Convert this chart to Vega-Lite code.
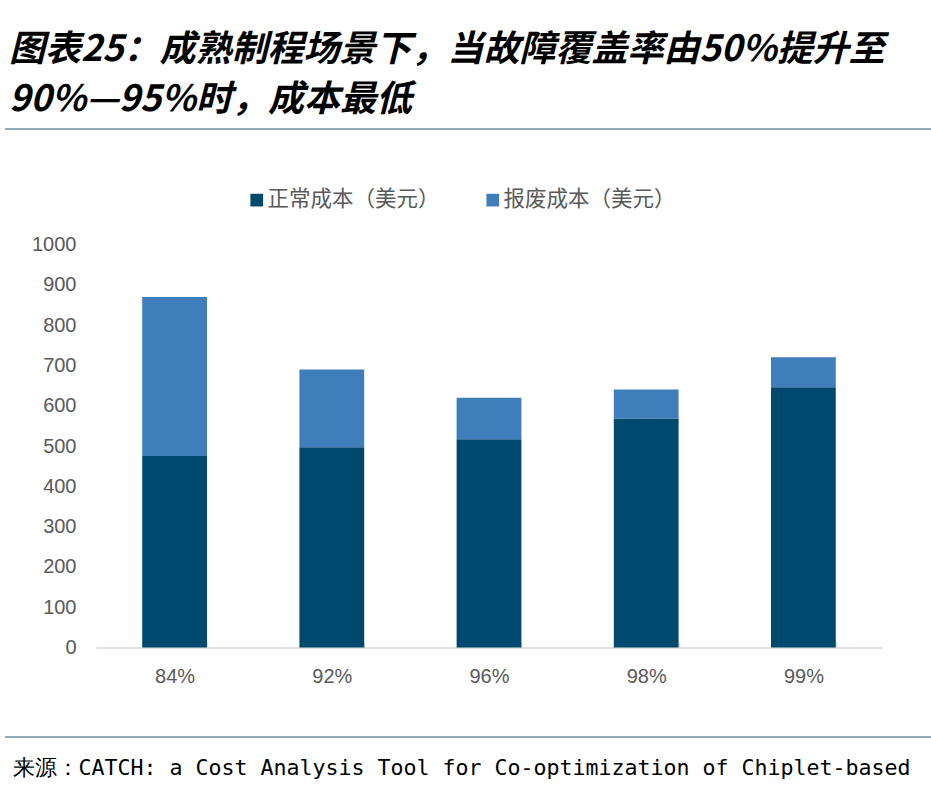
{
  "$schema": "https://vega.github.io/schema/vega-lite/v6.json",
  "autosize": {"type": "none"},
  "width": 926,
  "height": 608,
  "padding": {"left": 5, "top": 129, "right": 0, "bottom": 54},
  "background": "#ffffff",
  "title": {
    "text": ["图表25：成熟制程场景下，当故障覆盖率由50%提升至", "90%—95%时，成本最低"],
    "anchor": "start",
    "frame": "group",
    "dx": 4,
    "offset": 10,
    "font": "Noto Sans CJK SC",
    "fontSize": 36,
    "fontWeight": "bold",
    "fontStyle": "italic",
    "color": "#000000",
    "lineHeight": 50
  },
  "data": {
    "values": [
      {"rate": "84%", "type": "正常成本（美元）", "cost": 475},
      {"rate": "84%", "type": "报废成本（美元）", "cost": 395},
      {"rate": "92%", "type": "正常成本（美元）", "cost": 497},
      {"rate": "92%", "type": "报废成本（美元）", "cost": 193},
      {"rate": "96%", "type": "正常成本（美元）", "cost": 517},
      {"rate": "96%", "type": "报废成本（美元）", "cost": 103},
      {"rate": "98%", "type": "正常成本（美元）", "cost": 568},
      {"rate": "98%", "type": "报废成本（美元）", "cost": 72},
      {"rate": "99%", "type": "正常成本（美元）", "cost": 646},
      {"rate": "99%", "type": "报废成本（美元）", "cost": 74}
    ]
  },
  "mark": {"type": "bar"},
  "encoding": {
    "x": {
      "field": "rate",
      "type": "nominal",
      "sort": null,
      "scale": {"range": [91, 877], "paddingInner": 0.588, "paddingOuter": 0.294},
      "axis": {
        "orient": "bottom",
        "offset": -89.5,
        "labelAngle": 0,
        "labelFont": "Liberation Sans",
        "labelFontSize": 20,
        "labelColor": "#595959",
        "labelPadding": 25,
        "domainColor": "#d9d9d9",
        "domainWidth": 1.5,
        "tickBand": "extent",
        "tickColor": "#d9d9d9",
        "tickWidth": 1.5,
        "tickSize": -6,
        "grid": false,
        "title": "来源：CATCH: a Cost Analysis Tool for Co-optimization of Chiplet-based",
        "titleFont": "DejaVu Sans Mono",
        "titleFontSize": 21.6,
        "titleFontWeight": "normal",
        "titleColor": "#000000",
        "titleAlign": "left",
        "titleBaseline": "middle",
        "titleAngle": 0,
        "titleX": 7,
        "titleY": 120.5
      }
    },
    "y": {
      "field": "cost",
      "type": "quantitative",
      "aggregate": "sum",
      "stack": "zero",
      "scale": {"domain": [0, 1000], "range": [518.5, 115.5], "nice": false},
      "axis": {
        "orient": "left",
        "offset": -91,
        "values": [0, 100, 200, 300, 400, 500, 600, 700, 800, 900, 1000],
        "format": "d",
        "domain": false,
        "ticks": false,
        "grid": false,
        "labelFont": "Liberation Sans",
        "labelFontSize": 20,
        "labelColor": "#595959",
        "labelPadding": 20,
        "title": null
      }
    },
    "color": {
      "field": "type",
      "type": "nominal",
      "sort": ["正常成本（美元）", "报废成本（美元）"],
      "scale": {
        "domain": ["正常成本（美元）", "报废成本（美元）"],
        "range": ["#00496e", "#3f7ebb"]
      },
      "legend": {
        "orient": "none",
        "legendX": 241,
        "legendY": 60,
        "direction": "horizontal",
        "title": null,
        "symbolType": "square",
        "symbolSize": 161,
        "symbolStrokeWidth": 0,
        "labelFont": "Noto Sans CJK SC",
        "labelFontSize": 21.5,
        "labelColor": "#595959",
        "labelOffset": 0,
        "columnPadding": 42,
        "labelLimit": 400
      }
    }
  },
  "config": {
    "view": {"stroke": "#6b93ab", "strokeWidth": 1.5, "strokeDash": [926, 608]}
  }
}
